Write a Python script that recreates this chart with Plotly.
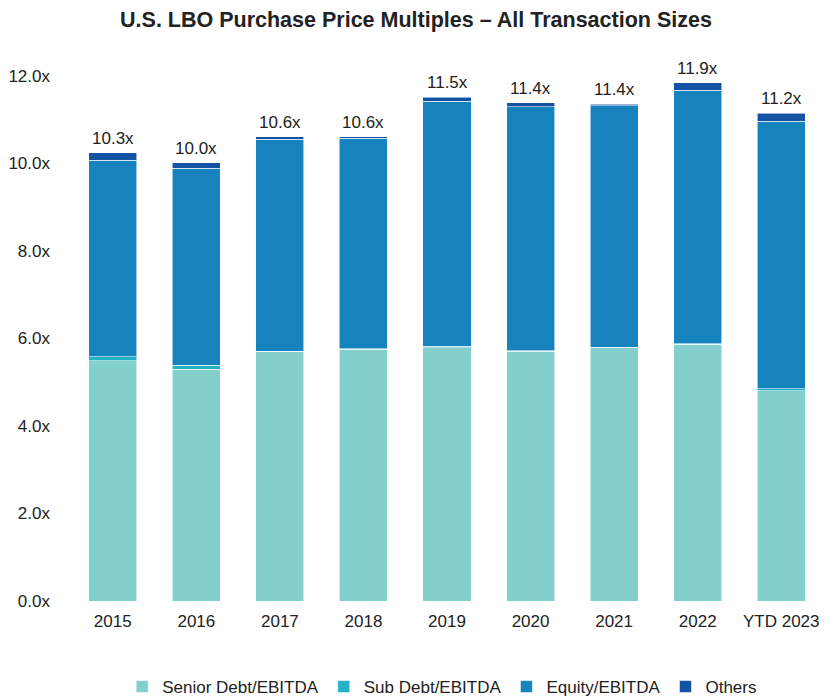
import plotly.graph_objects as go

categories = ["2015", "2016", "2017", "2018", "2019", "2020", "2021", "2022", "YTD 2023"]
senior_debt = [5.49, 5.30, 5.70, 5.76, 5.79, 5.71, 5.79, 5.87, 4.81]
sub_debt = [0.09, 0.09, 0.01, 0.01, 0.03, 0.01, 0.01, 0.01, 0.04]
equity = [4.50, 4.50, 4.85, 4.81, 5.60, 5.58, 5.52, 5.80, 6.12]
others = [0.17, 0.13, 0.05, 0.03, 0.09, 0.09, 0.04, 0.17, 0.18]
total_labels = ["10.3x", "10.0x", "10.6x", "10.6x", "11.5x", "11.4x", "11.4x", "11.9x", "11.2x"]

series = [
    ("Senior Debt/EBITDA", senior_debt, "#82CFCB"),
    ("Sub Debt/EBITDA", sub_debt, "#22B2C4"),
    ("Equity/EBITDA", equity, "#1683BE"),
    ("Others", others, "#1453A3"),
]

fig = go.Figure()
for name, vals, color in series:
    fig.add_trace(go.Bar(
        x=categories, y=vals, name=name,
        marker=dict(color=color, line=dict(color="rgba(255,255,255,0.7)", width=0.8)),
        hoverinfo="skip",
    ))

totals = [a + b + c + d for a, b, c, d in zip(senior_debt, sub_debt, equity, others)]
for i, (tot, lab) in enumerate(zip(totals, total_labels)):
    fig.add_annotation(x=i, y=tot, text=lab, showarrow=False,
                       xanchor="center", yanchor="bottom", yshift=3,
                       font=dict(size=17, color="#222"))

fig.update_layout(
    width=835, height=696,
    barmode="stack", bargap=0.425,
    plot_bgcolor="white", paper_bgcolor="white",
    font=dict(family="Liberation Sans, Arial, sans-serif", size=17, color="#222"),
    title=dict(text="<b>U.S. LBO Purchase Price Multiples – All Transaction Sizes</b>",
               x=0.4886, xanchor="center", y=0.983, yanchor="middle",
               font=dict(size=21.5, color="#222")),
    margin=dict(l=63, r=20, t=68, b=103),
    xaxis=dict(type="category", categoryorder="array", categoryarray=categories,
               range=[-0.5, len(categories) - 0.5], automargin=False,
               showgrid=False, showline=False, ticks="", tickfont=dict(size=17),
               ticklabelstandoff=8),
    yaxis=dict(range=[0, 12], dtick=2, tickformat=".1f", ticksuffix="x",
               automargin=False,
               showgrid=False, showline=False, zeroline=False, ticks="",
               tickfont=dict(size=17), ticklabelstandoff=20),
    legend=dict(orientation="h", xref="container", x=0.52, xanchor="center",
                yref="container", y=0.0244, yanchor="middle",
                font=dict(size=17), itemwidth=30, traceorder="normal"),
)

fig.write_html("out.html")
